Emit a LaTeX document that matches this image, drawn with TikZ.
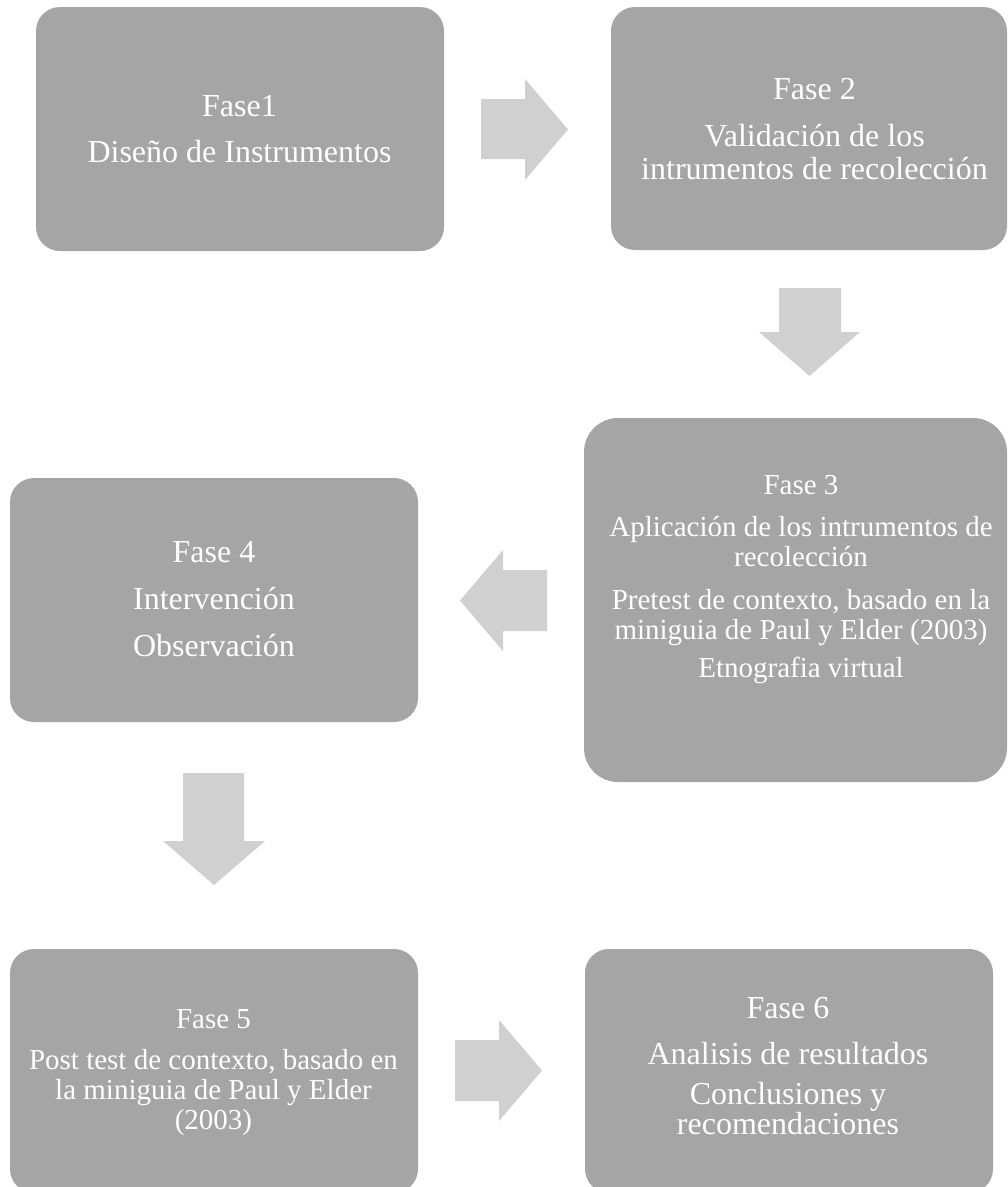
\documentclass[tikz,border=0pt]{standalone}
\usepackage{fontspec}
\setmainfont{Liberation Serif}
\definecolor{boxgray}{HTML}{A5A5A5}
\definecolor{arrowgray}{HTML}{D0D0D0}
\begin{document}
\begin{tikzpicture}[x=1pt,y=-1pt,
  phase/.style={fill=boxgray, rounded corners=24pt, inner sep=0pt, minimum width=408pt, minimum height=244pt},
  phasetext/.style={text=white, align=center, inner sep=0pt, anchor=north},
  bigtext/.style={font=\fontsize{32}{33}\selectfont},
  smalltext/.style={font=\fontsize{29}{30}\selectfont},
  blockarrow/.style={fill=arrowgray}]
\fill[white] (0,0) rectangle (1008,1187);
\clip (0,0) rectangle (1008,1187);

% boxes
\node[phase] (b1) at (240,129) {};
\node[phase, minimum width=396pt, minimum height=243pt] (b2) at (809,128.5) {};
\node[phase, rounded corners=34pt, minimum width=423pt, minimum height=364pt] (b3) at (795.5,600) {};
\node[phase] (b4) at (214,600) {};
\node[phase] (b5) at (214,1071) {};
\node[phase] (b6) at (789,1071) {};

% texts
\node[phasetext, bigtext] (t1) at (239.5,95.2) {Fase1\\[13pt]Diseño de Instrumentos};
\node[phasetext, bigtext] (t2) at (814.5,78.2) {Fase 2\\[14pt]Validación de los\\intrumentos de recolección};
\node[phasetext, smalltext] (t3) at (801,475.3) {Fase 3\\[12pt]Aplicación de los intrumentos de\\recolección\\[13pt]Pretest de contexto, basado en la\\miniguia de Paul y Elder (2003)\\[8pt]Etnografia virtual};
\node[phasetext, bigtext] (t4) at (214,541.2) {Fase 4\\[14pt]Intervención\\[14pt]Observación};
\node[phasetext, smalltext] (t5) at (213.5,1009.3) {Fase 5\\[11pt]Post test de contexto, basado en\\la miniguia de Paul y Elder\\(2003)};
\node[phasetext, font=\fontsize{32}{30}\selectfont] (t6) at (788,997.2) {Fase 6\\[16pt]Analisis de resultados\\[10pt]Conclusiones y\\recomendaciones};

% block arrows
\fill[blockarrow] (481,99) -- (525,99) -- (525,79) -- (568,129.5) -- (525,180) -- (525,159) -- (481,159) -- cycle;
\fill[blockarrow] (779,288) -- (841,288) -- (841,332) -- (860,332) -- (809.5,376) -- (759,332) -- (779,332) -- cycle;
\fill[blockarrow] (547,570) -- (503,570) -- (503,550) -- (460,600.5) -- (503,651) -- (503,631) -- (547,631) -- cycle;
\fill[blockarrow] (183,773) -- (244,773) -- (244,841) -- (265,841) -- (214,885) -- (163,841) -- (183,841) -- cycle;
\fill[blockarrow] (455,1040) -- (499,1040) -- (499,1020) -- (542,1070.5) -- (499,1121) -- (499,1101) -- (455,1101) -- cycle;
\end{tikzpicture}
\end{document}
